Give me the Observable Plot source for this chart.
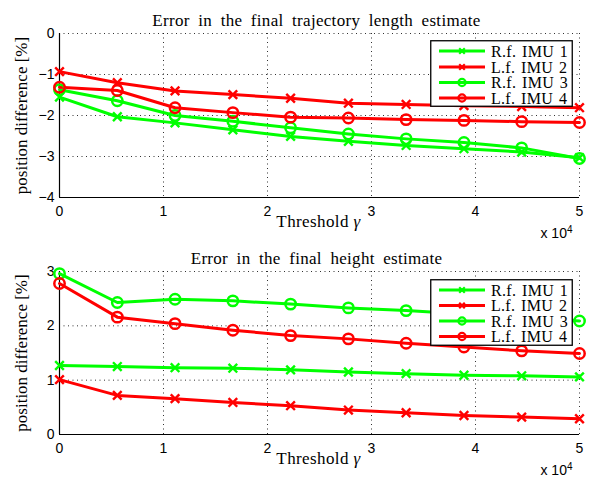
<!DOCTYPE html>
<html><head><meta charset="utf-8">
<script src="https://cdn.jsdelivr.net/npm/d3@7"></script>
<script src="https://cdn.jsdelivr.net/npm/@observablehq/plot@0.6"></script>
<style>
body{margin:0;background:#fff;}
#wrap{position:relative;width:593px;height:485px;overflow:hidden;}
#wrap svg.plotsvg{display:block;}
.leg{position:absolute;}
.ttl{word-spacing:4px;letter-spacing:0.3px;}
.xlab{letter-spacing:0.4px;}
.legtxt{word-spacing:1.5px;letter-spacing:0.3px;}
</style></head><body><div id="wrap"></div>
<script>
// ---- data (threshold in units of 10^4) ----
const threshold = [0, 0.556, 1.111, 1.667, 2.222, 2.778, 3.333, 3.889, 4.444, 5.0];
const seriesNames = ["R.f. IMU 1", "L.f. IMU 2", "R.f. IMU 3", "L.f. IMU 4"];
const seriesColors = ["#00ff00", "#ff0000", "#00ff00", "#ff0000"];
const seriesMarkers = ["times", "times", "circle", "circle"];

// Error in the final trajectory length estimate [%]
const lengthRf1 = [-1.55, -2.03, -2.18, -2.35, -2.51, -2.63, -2.73, -2.81, -2.89, -3.03];
const lengthLf2 = [-0.93, -1.20, -1.40, -1.49, -1.58, -1.70, -1.73, -1.76, -1.78, -1.81];
const lengthRf3 = [-1.37, -1.64, -2.00, -2.14, -2.30, -2.45, -2.57, -2.66, -2.79, -3.05];
const lengthLf4 = [-1.31, -1.39, -1.81, -1.93, -2.04, -2.06, -2.10, -2.12, -2.15, -2.17];

// Error in the final height estimate [%]
const heightRf1 = [1.27, 1.25, 1.23, 1.22, 1.19, 1.15, 1.12, 1.09, 1.08, 1.06];
const heightLf2 = [1.01, 0.72, 0.66, 0.59, 0.53, 0.45, 0.40, 0.35, 0.32, 0.29];
const heightRf3 = [2.96, 2.43, 2.49, 2.46, 2.40, 2.33, 2.28, 2.22, 2.16, 2.09];
const heightLf4 = [2.78, 2.16, 2.04, 1.92, 1.82, 1.76, 1.68, 1.61, 1.54, 1.49];

const xTicks = [0, 1, 2, 3, 4, 5];
const lengthYTicks = [-4, -3, -2, -1, 0];
const heightYTicks = [0, 1, 2, 3];
const titles = ["Error in the final trajectory length estimate", "Error in the final height estimate"];
const xLabel = "Threshold γ";
const yLabel = "position difference [%]";

function toRows(arrays) {
  const rows = [];
  arrays.forEach((arr, i) => arr.forEach((v, j) => rows.push({series: seriesNames[i], marker: seriesMarkers[i], x: threshold[j], y: v})));
  return rows;
}

function makePlot({rows, yDomain, yTicks, title, height, marginTop, marginBottom}) {
  const color = {domain: seriesNames, range: seriesColors};
  const serif = "Liberation Serif";
  return Plot.plot({
    width: 593, height, marginLeft: 59, marginRight: 14, marginTop, marginBottom,
    style: {fontFamily: "Liberation Sans, Arial, sans-serif", fontSize: "14px", color: "#000", background: "#fff"},
    x: {domain: [0, 5], ticks: xTicks, label: null},
    y: {domain: yDomain, ticks: yTicks, label: null},
    color,
    marks: [
      Plot.gridX(xTicks.slice(1), {stroke: "#000", strokeOpacity: 0.9, strokeDasharray: "1,3.5", strokeWidth: 0.9}),
      Plot.gridY(yTicks.slice(1), {stroke: "#000", strokeOpacity: 0.9, strokeDasharray: "1,3.5", strokeWidth: 0.9}),
      Plot.ruleX([0], {stroke: "#000", strokeWidth: 1.2}),
      Plot.ruleY([yDomain[0]], {stroke: "#000", strokeWidth: 1.2}),
      Plot.axisX({ticks: xTicks, tickSize: 0, tickPadding: 9, label: null, fontSize: 14, tickFormat: d => String(d)}),
      Plot.axisY({ticks: yTicks, tickSize: 0, tickPadding: 5, label: null, fontSize: 14,
        tickFormat: d => String(d).replace("-", "\u2212")}),
      Plot.line(rows, {x: "x", y: "y", z: "series", stroke: d => d.series, strokeWidth: 3, strokeLinejoin: "round"}),
      Plot.dot(rows.filter(d => d.marker === "times"), {x: "x", y: "y", stroke: d => d.series, symbol: "times", r: 4, strokeWidth: 2.4}),
      Plot.dot(rows.filter(d => d.marker === "circle"), {x: "x", y: "y", stroke: d => d.series, symbol: "circle", r: 5.2, strokeWidth: 2.5, fill: "none"}),
      Plot.text([title], {frameAnchor: "top", dy: -20, dx: -3, fontFamily: serif, fontSize: 17, className: "ttl"}),
      Plot.text([yLabel], {frameAnchor: "left", textAnchor: "middle", rotate: -90, dx: -38, fontFamily: serif, fontSize: 17}),
      Plot.text([xLabel], {frameAnchor: "bottom", dy: 29, dx: -1, fontFamily: serif, fontSize: 17, className: "xlab"}),
      Plot.text(["x 10"], {frameAnchor: "bottom-right", textAnchor: "end", dx: -7, dy: 40, fontSize: 14})
    ]
  });
}

const wrap = document.getElementById("wrap");
const p1 = makePlot({rows: toRows([lengthRf1, lengthLf2, lengthRf3, lengthLf4]), yDomain: [-4, 0], yTicks: lengthYTicks, title: titles[0], height: 242, marginTop: 33, marginBottom: 45});
const p2 = makePlot({rows: toRows([heightRf1, heightLf2, heightRf3, heightLf4]), yDomain: [0, 3], yTicks: heightYTicks, title: titles[1], height: 243, marginTop: 29, marginBottom: 51});
p1.classList.add("plotsvg"); p2.classList.add("plotsvg");
wrap.appendChild(p1); wrap.appendChild(p2);

// italic gamma and superscript exponent
d3.select(wrap).selectAll("text").each(function() {
  const t = d3.select(this);
  const s = this.textContent;
  if (s === xLabel) {
    t.text(null);
    t.append("tspan").text("Threshold ");
    t.append("tspan").attr("font-style", "italic").text("γ");
  } else if (s === "x 10") {
    t.append("tspan").attr("dy", "-0.45em").attr("font-size", "10px").text("4");
  }
});

// legends
function legend(left, top, rowYs) {
  const w = 143, h = 67;
  const svg = d3.select(wrap).append("svg").attr("class", "leg")
    .style("left", left + "px").style("top", top + "px").attr("width", w).attr("height", h);
  svg.append("rect").attr("x", 0.75).attr("y", 0.75).attr("width", w - 1.5).attr("height", h - 1.5)
    .attr("fill", "#fff").attr("stroke", "#000").attr("stroke-width", 1.3);
  seriesNames.forEach((name, i) => {
    const y = rowYs[i];
    svg.append("line").attr("x1", 9).attr("x2", 55).attr("y1", y).attr("y2", y)
      .attr("stroke", seriesColors[i]).attr("stroke-width", 3);
    if (seriesMarkers[i] === "circle") {
      svg.append("circle").attr("cx", 32).attr("cy", y).attr("r", 3.6).attr("fill", "none")
        .attr("stroke", seriesColors[i]).attr("stroke-width", 2.2);
    } else {
      svg.append("path").attr("d", d3.symbol(d3.symbolTimes, 22)()).attr("transform", `translate(32,${y})`)
        .attr("fill", "none").attr("stroke", seriesColors[i]).attr("stroke-width", 2.2);
    }
    svg.append("text").attr("class", "legtxt").attr("x", 61).attr("y", y).attr("dy", "0.35em")
      .attr("font-family", "Liberation Serif").attr("font-size", 16).text(name);
  });
}
legend(430, 40, [11, 27, 42.5, 58]);
legend(430, 279, [11, 26.5, 42, 57.5]);
</script>
</body></html>
